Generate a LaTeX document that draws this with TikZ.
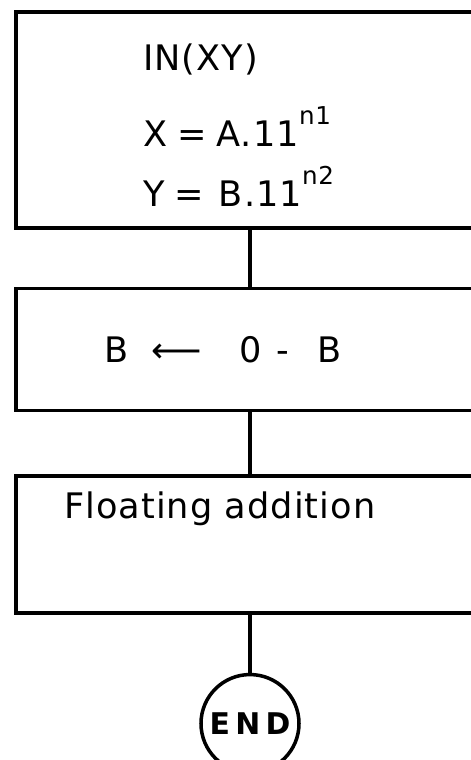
\documentclass[tikz,border=0pt]{standalone}
\usepackage{fontspec}
\usepackage{graphicx}
\setmainfont{DejaVu Sans}[LetterSpace=3]
\usetikzlibrary{positioning}

\begin{document}
\begin{tikzpicture}[line width=2pt, font=\fontsize{20}{24}\selectfont,
  blk/.style={draw, rectangle, minimum width=9.36cm, inner sep=0pt},
  term/.style={draw, circle, minimum size=1.96cm, inner sep=0pt,
    font=\fontsize{17}{19}\selectfont\bfseries\addfontfeatures{LetterSpace=18}},
  txt/.style={anchor=base west, inner sep=0pt}]
  \useasboundingbox (0,0) rectangle (9.42,-15.2);

  % boxes
  \node[blk, minimum height=4.32cm] (inbox) at (5.0,-2.4) {};
  \node[blk, minimum height=2.44cm, below=1.14cm of inbox] (negbox) {};
  \node[blk, minimum height=2.74cm, below=1.24cm of negbox] (addbox) {};
  \node[term, below=1.16cm of addbox] (endnode) {END};

  % connectors
  \draw (inbox) -- (negbox);
  \draw (negbox) -- (addbox);
  \draw (addbox) -- (endnode);

  % texts
  \node[txt] (inxy) at ([shift={(2.54,-1.2)}]inbox.north west) {IN(XY)};
  \node[txt] (xdef) at ([shift={(2.54,-2.72)}]inbox.north west)
    {X\hspace{0.2cm}=\hspace{0.2cm}A.11\raisebox{1.15ex}{\fontsize{14}{16}\selectfont n1}};
  \node[txt] (ydef) at ([shift={(2.54,-3.92)}]inbox.north west)
    {Y\hspace{0.2cm}=\hspace{0.3cm}B.11\raisebox{1.15ex}{\fontsize{14}{16}\selectfont n2}};
  \node[txt] (negtxt) at ([shift={(1.78,-1.52)}]negbox.north west)
    {B\hspace{0.45cm}⟵\hspace{0.75cm}0\hspace{0.3cm}-\hspace{0.55cm}B};
  \node[txt] (addtxt) at ([shift={(0.96,-0.88)}]addbox.north west) {Floating addition};
\end{tikzpicture}
\end{document}
